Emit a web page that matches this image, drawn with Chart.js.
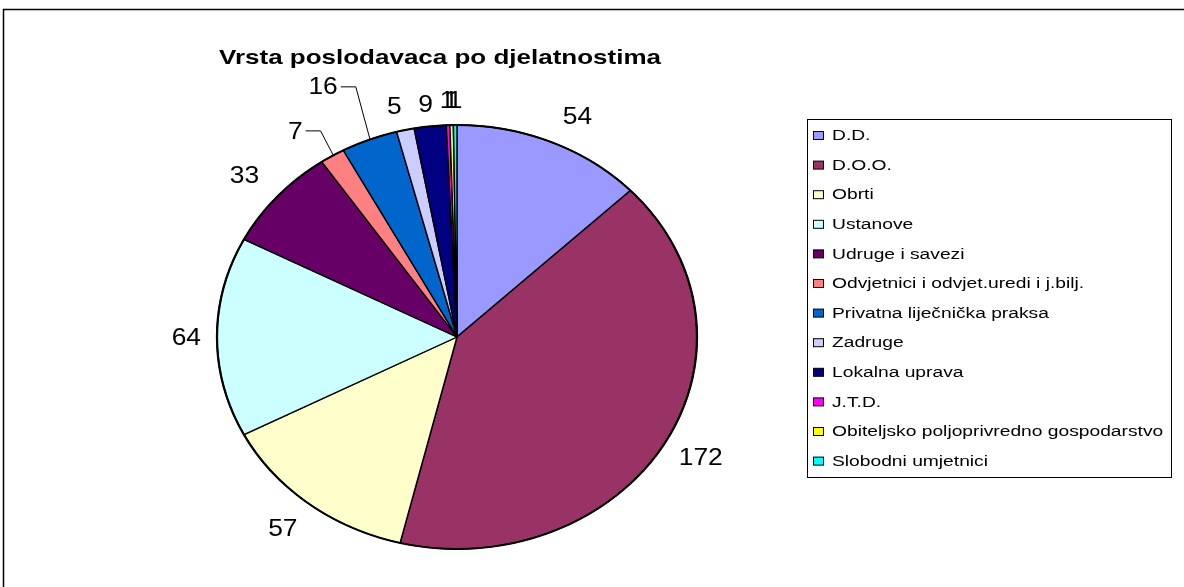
<!DOCTYPE html>
<html>
<head>
<meta charset="utf-8">
<script src="https://cdn.jsdelivr.net/npm/chart.js@4/dist/chart.umd.min.js"></script>
<style>
html,body{margin:0;padding:0;background:#fff;}
#wrap{position:relative;width:1184px;height:587px;}
</style>
</head>
<body>
<div id="wrap"><canvas id="c" width="1184" height="587"></canvas></div>
<script>
const title = 'Vrsta poslodavaca po djelatnostima';
const categories = ['D.D.', 'D.O.O.', 'Obrti', 'Ustanove', 'Udruge i savezi',
  'Odvjetnici i odvjet.uredi i j.bilj.', 'Privatna liječnička praksa', 'Zadruge',
  'Lokalna uprava', 'J.T.D.', 'Obiteljsko poljoprivredno gospodarstvo', 'Slobodni umjetnici'];
const values = [54, 172, 57, 64, 33, 7, 16, 5, 9, 1, 1, 1];
const colors = ['#9999FF', '#993366', '#FFFFCC', '#CCFFFF', '#660066', '#FF8080',
  '#0066CC', '#CCCCFF', '#000080', '#FF00FF', '#FFFF00', '#00FFFF'];

// styling / layout (not data)
const FONT = '"Liberation Sans", Arial, sans-serif';
const RX = 240, RY = 212;            // ellipse radii of the drawn pie
const SX = RX / RY;
const labelGap = 16;
const leaderLabels = {5: [-25, -4], 6: [-35, -30]}; // labels moved with leader lines
const labelNudge = {0: [14, -3], 1: [3, 2], 2: [-7, 5], 4: [-10, -5], 7: [-6, 0], 8: [-2, 2]};

function stretchedText(ctx, txt, x, y, sx) {
  ctx.save();
  ctx.translate(x, y);
  ctx.scale(sx, 1);
  ctx.fillText(txt, 0, 0);
  ctx.restore();
}

const ellipsePlugin = {
  id: 'ellipse',
  beforeDatasetsDraw(chart) {
    const arc = chart.getDatasetMeta(0).data[0];
    const ctx = chart.ctx;
    ctx.save();
    ctx.translate(arc.x, arc.y);
    ctx.scale(SX, 1);
    ctx.translate(-arc.x, -arc.y);
  },
  afterDatasetsDraw(chart) {
    const ctx = chart.ctx;
    const arc0 = chart.getDatasetMeta(0).data[0];
    ctx.beginPath();
    ctx.arc(arc0.x, arc0.y, arc0.outerRadius, 0, Math.PI * 2);
    ctx.lineWidth = 2;
    ctx.strokeStyle = '#000';
    ctx.stroke();
    ctx.restore();
  }
};

const decorPlugin = {
  id: 'decor',
  afterDraw(chart) {
    const ctx = chart.ctx;
    const meta = chart.getDatasetMeta(0);
    ctx.save();
    // outer frame
    ctx.strokeStyle = '#000';
    ctx.lineWidth = 1.5;
    ctx.beginPath();
    ctx.moveTo(3.5, 587);
    ctx.lineTo(3.5, 9.5);
    ctx.lineTo(1184, 9.5);
    ctx.stroke();

    // title
    ctx.fillStyle = '#000';
    ctx.font = 'bold 21px ' + FONT;
    ctx.textAlign = 'center';
    ctx.textBaseline = 'middle';
    const tw = ctx.measureText(title).width;
    stretchedText(ctx, title, 440, 58, 442 / tw);

    // data labels
    ctx.font = '24px ' + FONT;
    meta.data.forEach((arc, i) => {
      const a = (arc.startAngle + arc.endAngle) / 2;
      const c = Math.cos(a), s = Math.sin(a);
      const px = arc.x + RX * c, py = arc.y + RY * s;
      const txt = String(values[i]);
      const w = ctx.measureText(txt).width * 1.1, h = 17;
      let lx = px + c * labelGap + c * w / 2;
      let ly = py + s * labelGap + s * h / 2;
      if (labelNudge[i]) { lx += labelNudge[i][0]; ly += labelNudge[i][1]; }
      if (leaderLabels[i]) {
        lx += leaderLabels[i][0];
        ly += leaderLabels[i][1];
        ctx.lineWidth = 1;
        ctx.strokeStyle = '#000';
        ctx.beginPath();
        ctx.moveTo(lx + w / 2 + 3, ly);
        ctx.lineTo(lx + w / 2 + 18, ly);
        ctx.lineTo(px - c * 2, py - s * 2 - 2);
        ctx.stroke();
      }
      stretchedText(ctx, txt, lx, ly + 1, 1.1);
    });

    // legend
    ctx.lineWidth = 1;
    ctx.strokeStyle = '#000';
    ctx.strokeRect(807.5, 119.5, 364, 358);
    ctx.font = '15.5px ' + FONT;
    ctx.textAlign = 'left';
    categories.forEach((name, i) => {
      const y = 135 + i * 29.6;
      ctx.fillStyle = colors[i];
      ctx.fillRect(813.5, y - 3.5, 10, 8);
      ctx.strokeRect(813.5, y - 3.5, 10, 8);
      ctx.fillStyle = '#000';
      stretchedText(ctx, name, 832, y + 1, 1.24);
    });
    ctx.restore();
  }
};

new Chart(document.getElementById('c'), {
  type: 'pie',
  data: {
    labels: categories,
    datasets: [{
      data: values,
      backgroundColor: colors,
      borderColor: '#000',
      borderWidth: 1.3,
      radius: RY
    }]
  },
  options: {
    responsive: false,
    animation: false,
    events: [],
    layout: {padding: {left: 10, right: 280, top: 120, bottom: 33}},
    plugins: {legend: {display: false}, title: {display: false}, tooltip: {enabled: false}}
  },
  plugins: [ellipsePlugin, decorPlugin]
});
</script>
</body>
</html>
